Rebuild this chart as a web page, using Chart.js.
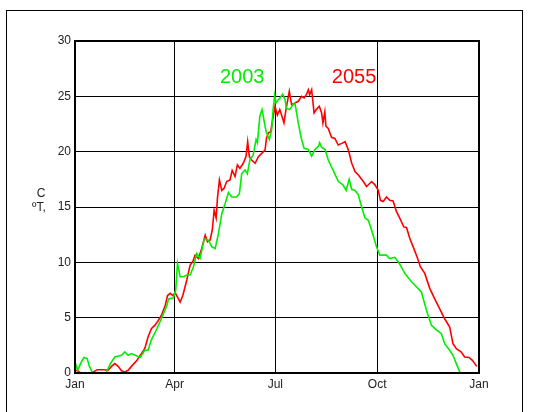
<!DOCTYPE html>
<html>
<head>
<meta charset="utf-8">
<script src="https://cdn.jsdelivr.net/npm/chart.js@4.4.1/dist/chart.umd.min.js"></script>
<style>
  html, body { margin: 0; padding: 0; background: #fff; }
  #wrap { width: 559px; height: 412px; }
</style>
</head>
<body>
<div id="wrap"><canvas id="chart" width="559" height="412"></canvas></div>
<script>
// day of year -> temperature
const days2003 = [0, 2.4, 5, 8, 11, 13, 16, 28, 32, 36, 42, 45, 48, 51, 59, 63, 66, 69, 74, 78, 83, 84.5, 89, 91, 92.6, 95, 98, 101, 104, 107, 110, 113, 116.7, 120.6, 123.6, 126.6, 129.6, 132.6, 135.6, 138.6, 141.6, 146, 148.5, 150.6, 153.6, 155.7, 158, 161, 163.6, 164.8, 167, 169, 171.7, 173, 175.6, 177.7, 179, 180.4, 181.6, 183.7, 185, 187.6, 189.7, 191, 194, 196.6, 198.7, 201.7, 204.7, 207, 210.8, 213.8, 216.8, 220, 221, 222.8, 226, 228.8, 233, 238, 242, 245, 247.7, 250, 253, 256, 259, 262, 265, 268, 272.4, 275.4, 281.4, 284, 289, 293, 298, 304, 308.5, 313, 317.5, 322, 326.5, 331, 334, 338.5, 341.5, 344.5, 348, 365];
const temp2003 = [1.0, 0.25, 0.85, 1.4, 1.3, 0.6, 0, 0, 0.85, 1.45, 1.6, 1.9, 1.6, 1.75, 1.4, 2.05, 2.05, 3.0, 4.0, 4.9, 6.1, 6.7, 6.8, 7.5, 9.9, 8.7, 8.7, 8.85, 8.85, 9.6, 10.8, 10.35, 12.1, 12.0, 11.4, 11.25, 12.6, 14.4, 15.3, 16.3, 15.9, 15.9, 16.2, 18.0, 18.35, 18.0, 19.25, 19.7, 21.1, 20.8, 23.2, 23.8, 22.3, 21.7, 21.1, 22.0, 23.8, 25.1, 24.4, 24.7, 24.8, 25.2, 24.7, 23.9, 23.8, 24.2, 24.4, 22.6, 21.1, 20.3, 20.2, 19.6, 20.2, 20.5, 20.8, 20.4, 20.2, 19.25, 18.35, 17.3, 17.0, 16.5, 17.5, 16.6, 16.5, 16.1, 15.0, 14.0, 13.8, 12.9, 11.4, 10.65, 10.65, 10.35, 10.45, 9.9, 9.0, 8.24, 7.8, 7.3, 5.7, 4.3, 3.9, 3.55, 2.65, 2.05, 1.6, 0.85, 0, 0];

const days2055 = [0, 2.4, 5, 15, 20, 26, 30, 33, 36, 39, 42, 45, 48, 51, 56, 60, 63, 66, 69, 72, 75, 78, 81.5, 83.6, 86, 88.4, 90.5, 93.5, 95, 97.4, 101, 104, 106.4, 108.5, 111.5, 114.5, 117.6, 119.7, 122, 124, 125.7, 127.5, 128.7, 130.5, 132.6, 134.7, 137, 140, 142, 144.6, 146.7, 149, 152, 154.5, 156, 157.5, 159.6, 162.7, 165.7, 168.7, 171.7, 173, 174.7, 176.8, 178.6, 180.7, 182.8, 185, 187.6, 188.8, 190.6, 193.6, 195.7, 198.7, 201.7, 204.7, 207, 209, 210.8, 212, 213.8, 216, 218, 220.7, 222.8, 224, 225.7, 226.7, 228.8, 231.8, 234.8, 237.8, 241, 244, 247, 250, 253, 256, 260.5, 263.4, 268, 271, 274, 276, 278.4, 281.4, 284.4, 287.4, 290.4, 293.4, 297, 299.5, 302.5, 305.5, 309, 312, 316, 320.5, 325, 329.5, 334, 338.5, 341.5, 344.5, 349, 352, 356, 359, 363];
const temp2055 = [0.25, 0.2, 0, 0, 0.3, 0.3, 0.25, 0.6, 0.85, 0.6, 0.2, 0.1, 0.25, 0.6, 1.15, 1.75, 2.2, 3.25, 4.0, 4.3, 4.7, 5.2, 6.1, 7.0, 7.2, 7.0, 7.25, 6.7, 6.4, 7.0, 8.4, 9.75, 10.05, 10.65, 10.35, 11.25, 12.45, 11.85, 12.0, 12.9, 14.7, 14.0, 15.8, 17.45, 16.5, 16.7, 17.3, 17.45, 18.3, 17.75, 18.8, 18.5, 18.95, 19.55, 20.9, 19.55, 19.25, 18.95, 19.55, 19.85, 20.15, 21.2, 21.7, 21.8, 22.9, 24.1, 23.3, 23.8, 23.0, 22.6, 23.8, 25.45, 24.25, 24.4, 24.55, 25.0, 24.85, 25.15, 25.6, 25.15, 25.6, 23.5, 23.8, 24.1, 23.5, 22.6, 23.6, 22.3, 22.1, 21.3, 21.2, 20.6, 20.75, 20.9, 20.15, 18.95, 18.2, 17.9, 17.3, 16.85, 17.3, 17.0, 16.5, 15.6, 15.5, 15.9, 15.6, 15.55, 14.6, 14.0, 13.2, 13.15, 12.15, 11.4, 10.5, 9.6, 9.0, 7.65, 6.7, 5.8, 4.9, 4.15, 2.65, 2.2, 1.9, 1.45, 1.4, 1.15, 0.6];

const tickDays = [0, 90, 181, 273, 365];
const tickNames = ['Jan', 'Apr', 'Jul', 'Oct', 'Jan'];
const yTicks = [0, 5, 10, 15, 20, 25, 30];
const seriesNames = ['2003', '2055'];
const seriesColors = ['#00ee00', '#ff0000'];

const FONT = '"Liberation Sans", Arial, sans-serif';

function toPoints(xs, ys) {
  return xs.map((d, i) => ({ x: d, y: ys[i] }));
}

// frame, plot border, series labels, odd axis title
const extras = {
  id: 'extras',
  beforeDraw(chart) {
    const ctx = chart.ctx;
    ctx.save();
    ctx.fillStyle = '#fff';
    ctx.fillRect(0, 0, chart.width, chart.height);
    ctx.strokeStyle = '#000';
    ctx.lineWidth = 1;
    ctx.strokeRect(6.5, 10.5, 516, 420);
    ctx.restore();
  },
  afterDraw(chart) {
    const ctx = chart.ctx;
    const a = chart.chartArea;
    const xs = chart.scales.x, ys = chart.scales.y;
    ctx.save();
    ctx.strokeStyle = '#000';
    ctx.lineWidth = 2;
    ctx.strokeRect(a.left, a.top, a.right - a.left, a.bottom - a.top);

    ctx.font = '20px ' + FONT;
    ctx.textBaseline = 'alphabetic';
    ctx.fillStyle = seriesColors[0];
    ctx.fillText(seriesNames[0], xs.getPixelForValue(131), ys.getPixelForValue(26.2));
    ctx.fillStyle = seriesColors[1];
    ctx.fillText(seriesNames[1], xs.getPixelForValue(232), ys.getPixelForValue(26.2));

    ctx.fillStyle = '#222';
    ctx.font = '12px ' + FONT;
    ctx.textAlign = 'center';
    ctx.fillText('C', 41, 197);
    ctx.textAlign = 'left';
    ctx.fillText('ºT,', 32, 211);
    ctx.restore();
  }
};

new Chart(document.getElementById('chart'), {
  type: 'line',
  data: {
    datasets: [
      {
        label: seriesNames[0],
        data: toPoints(days2003, temp2003),
        borderColor: seriesColors[0],
        borderWidth: 1.6,
        pointRadius: 0,
        tension: 0,
        fill: false
      },
      {
        label: seriesNames[1],
        data: toPoints(days2055, temp2055),
        borderColor: seriesColors[1],
        borderWidth: 1.6,
        pointRadius: 0,
        tension: 0,
        fill: false
      }
    ]
  },
  options: {
    responsive: false,
    animation: false,
    layout: { padding: { left: 0, right: 80, top: 41, bottom: 0 } },
    plugins: {
      legend: { display: false },
      tooltip: { enabled: false }
    },
    scales: {
      x: {
        type: 'linear',
        min: 0,
        max: 365,
        afterBuildTicks(scale) { scale.ticks = tickDays.map(v => ({ value: v })); },
        afterFit(scale) { scale.height = 39; },
        ticks: {
          callback: (v) => tickNames[tickDays.indexOf(v)],
          color: '#222',
          font: { family: FONT, size: 12 },
          padding: 4,
          maxRotation: 0,
          autoSkip: false
        },
        grid: { color: '#000', lineWidth: 1, drawTicks: false },
        border: { color: '#000', width: 2 }
      },
      y: {
        min: 0,
        max: 30,
        afterBuildTicks(scale) { scale.ticks = yTicks.map(v => ({ value: v })); },
        afterFit(scale) { scale.width = 75; },
        ticks: {
          color: '#222',
          font: { family: FONT, size: 12 },
          padding: 4
        },
        grid: { color: '#000', lineWidth: 1, drawTicks: false },
        border: { color: '#000', width: 2 }
      }
    }
  },
  plugins: [extras]
});
</script>
</body>
</html>
